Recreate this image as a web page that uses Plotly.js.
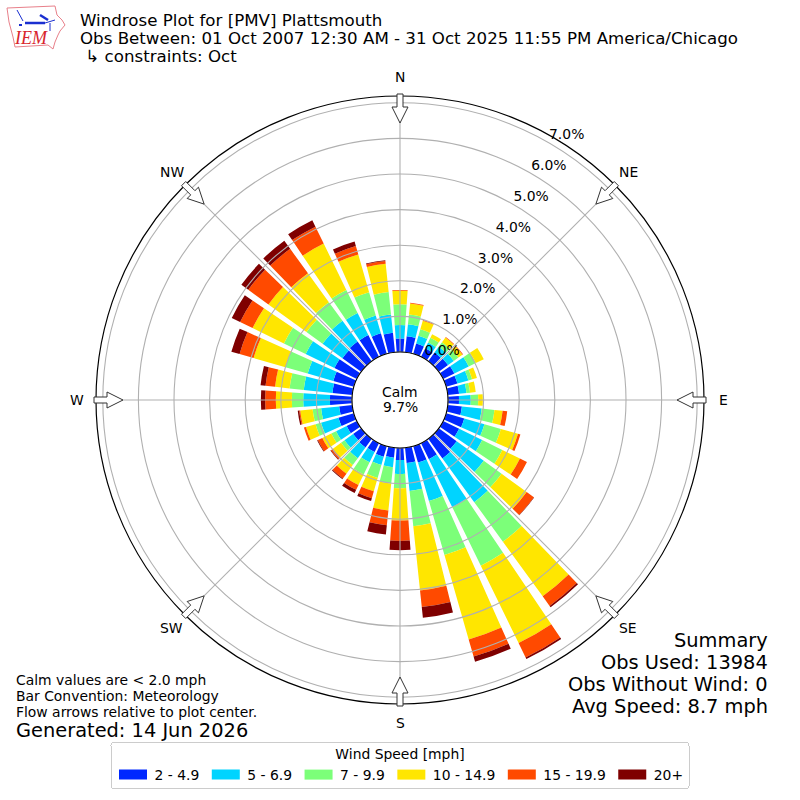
<!DOCTYPE html>
<html>
<head>
<meta charset="utf-8">
<script src="https://cdn.plot.ly/plotly-3.0.1.min.js"></script>
<style>html,body{margin:0;padding:0;background:#fff}#chart{width:800px;height:800px}</style>
</head>
<body>
<div id="chart"></div>
<script>
const directions = [0,10,20,30,40,50,60,70,80,90,100,110,120,130,140,150,160,170,180,190,200,210,220,230,240,250,260,270,280,290,300,310,320,330,340,350];
const speedLabels = ['2 - 4.9','5 - 6.9','7 - 9.9','10 - 14.9','15 - 19.9','20+'];
const speedColors = ['#0028ff','#00d4ff','#7cff79','#ffe600','#ff4a00','#7f0000'];
const speed2to5   = [.38,.45,.30,.27,.30,.32,.35,.33,.32,.31,.40,.53,.50,.62,.68,.50,.48,.43,.34,.28,.31,.28,.30,.28,.32,.45,.37,.62,.56,.60,.70,.65,.68,.68,.60,.55];
const speed5to7   = [.38,.34,.23,.18,.20,.20,.45,.32,.21,.33,.56,.59,.72,.94,1.52,1.50,1.12,.79,.39,.27,.24,.32,.37,.30,.33,.51,.51,.75,.81,.75,.90,.69,.72,.69,.52,.52];
const speed7to10  = [.58,.28,.19,.15,.16,.16,.22,.11,.10,.21,.36,.48,.63,.62,1.37,1.83,1.58,1.00,.40,.46,.38,.38,.24,.12,.15,.16,.24,.32,.40,.65,.68,.56,.65,.72,.68,.63];
const speed10to15 = [.38,.31,.25,.11,.16,.14,.25,.14,.16,.13,.23,.50,.55,.87,1.90,2.42,2.47,1.81,.91,.76,.39,.33,.30,.28,.28,.28,.35,.45,.41,.93,.98,1.32,1.00,1.45,1.10,.80];
const speed15to20 = [.02,.02,.02,0,.02,.02,0,0,0,0,.13,.07,.22,.25,.33,.45,.50,.47,.57,.42,.20,.15,.17,.07,.14,.06,.03,.30,.27,.41,.39,.70,.85,.53,.25,.08];
const speed20plus = [0,0,0,0,0,0,0,0,0,0,0,0,0,.01,.05,.05,.15,.30,.26,.26,.08,.10,.02,.02,.02,0,.04,.12,.14,.24,.26,.24,.28,.20,.13,.02];
const speedSeries = [speed2to5,speed5to7,speed7to10,speed10to15,speed15to20,speed20plus];
const radialTicks = [0,1,2,3,4,5,6,7];
const radialTickLabels = ['0.0%','1.0%','2.0%','3.0%','4.0%','5.0%','6.0%','7.0%'];
const compassAngles = [0,45,90,135,180,225,270,315];
const compassLabels = ['N','NE','E','SE','S','SW','W','NW'];
const titleLines = ['Windrose Plot for [PMV] Plattsmouth','Obs Between: 01 Oct 2007 12:30 AM - 31 Oct 2025 11:55 PM America/Chicago','\u00a0\u21b3 constraints: Oct'];
const summaryLines = ['Summary','Obs Used: 13984','Obs Without Wind: 0','Avg Speed: 8.7 mph'];
const noteLines = ['Calm values are < 2.0 mph','Bar Convention: Meteorology','Flow arrows relative to plot center.'];
const generatedText = 'Generated: 14 Jun 2026';
const calmLines = ['Calm','9.7%'];
const FONT = '"DejaVu Sans", sans-serif';

// pixel helpers: margins are zero, so paper = page pixels
const fx = p => p/800, fy = p => 1-p/800;
const CX=400, CY=400, R=304, R0=48, PER=35.6, LABEL_R=323;
function pathOf(points, close){
  return points.map((p,i)=>(i?'L':'M')+fx(p[0]).toFixed(5)+' '+fy(p[1]).toFixed(5)).join(' ')+(close?' Z':'');
}
const shapes = [];
const GRID={color:'#b0b0b0',width:1.1};
// grid over the bars, as in the reference
radialTicks.forEach(v=>{
  const r=R0+v*PER;
  shapes.push({type:'circle',xref:'paper',yref:'paper',layer:'above',x0:fx(CX-r),x1:fx(CX+r),y0:fy(CY+r),y1:fy(CY-r),line:GRID});
});
compassAngles.forEach(a=>{
  const t=a*Math.PI/180;
  shapes.push({type:'line',xref:'paper',yref:'paper',layer:'above',
    x0:fx(CX+Math.sin(t)*R0),y0:fy(CY-Math.cos(t)*R0),x1:fx(CX+Math.sin(t)*R),y1:fy(CY-Math.cos(t)*R),line:GRID});
});
// centre hole
shapes.push({type:'circle',xref:'paper',yref:'paper',layer:'above',x0:fx(CX-R0),x1:fx(CX+R0),y0:fy(CY+R0),y1:fy(CY-R0),fillcolor:'#fff',line:{color:'#000',width:1.1}});
// flow arrows
compassAngles.forEach(a=>{
  const t=a*Math.PI/180, ux=Math.sin(t), uy=-Math.cos(t), vx=-uy, vy=ux;
  const pt=(r,w)=>[CX+ux*r+vx*w, CY+uy*r+vy*w];
  shapes.push({type:'path',xref:'paper',yref:'paper',layer:'above',fillcolor:'#fff',line:{color:'#333',width:1},
    path:pathOf([pt(306,-3),pt(306,3),pt(293,3),pt(293,8),pt(277,0),pt(293,-8),pt(293,-3)],true)});
});
// IEM logo
function logo(points,color,width,close,fill){
  shapes.push({type:'path',xref:'paper',yref:'paper',layer:'above',line:{color,width},fillcolor:fill||'rgba(0,0,0,0)',path:pathOf(points,close)});
}
logo([[7,8],[55,6],[57,15],[62,20],[65,25],[60,31],[58,35],[55,42],[53,49],[48,45],[15,47],[13,37],[9,22]],'#e8808a',1,true);
logo([[25,23],[45,23]],'#1a2fd0',2.5);
logo([[45,23],[55,20]],'#1a2fd0',1);
logo([[40,15],[48,20]],'#1a2fd0',2.5);
logo([[17,10],[23,21]],'#1a2fd0',1);
logo([[50,23],[50,31]],'#1a2fd0',1);
logo([[19,25],[22,25]],'#1a2fd0',2);

const annotations = [];
function note(text,x,y,size,anchor,color,family){
  const a=anchor||'left';
  annotations.push({text,xref:'paper',yref:'paper',x:fx(x+(a==='left'?-2:a==='right'?2:0)),y:fy(y),xanchor:a,yanchor:'middle',showarrow:false,
    align:a,font:{family:family||FONT,size,color:color||'#000'}});
}
note(titleLines[1],80,38.5,16.67);
note(titleLines[2],80,56,16.67);
summaryLines.forEach((s,i)=>note(s,768,640+i*22,19.4,'right'));
noteLines.forEach((s,i)=>note(s,16,680+i*16,13.9));
note(generatedText,16,730,19.4);
note(calmLines[0],400,392,13.9,'center');
note(calmLines[1],400,407,13.9,'center');
note('<i>IEM</i>',31,38,18,'center','#d8242c','"Liberation Serif", serif');
compassLabels.forEach((s,i)=>{
  const t=compassAngles[i]*Math.PI/180;
  note(s,CX+Math.sin(t)*LABEL_R,CY-Math.cos(t)*LABEL_R,13.9,'center');
});

const traces = speedSeries.map((values,i)=>({
  type:'barpolar',name:speedLabels[i],r:values,theta:directions,width:8,
  marker:{color:speedColors[i],line:{width:0}},hoverinfo:'skip'
}));

const layout = {
  width:800,height:800,margin:{l:0,r:0,t:0,b:0},paper_bgcolor:'#fff',plot_bgcolor:'#fff',
  font:{family:FONT,color:'#000',size:13.9},
  title:{text:titleLines[0],font:{family:FONT,size:16.67,color:'#000'},x:fx(80),xanchor:'left',xref:'paper',y:fy(20),yanchor:'middle',yref:'paper'},
  polar:{
    domain:{x:[fx(CX-R),fx(CX+R)],y:[fy(CY+R),fy(CY-R)]},
    bgcolor:'#fff',barmode:'stack',
    angularaxis:{rotation:90,direction:'clockwise',tickmode:'array',tickvals:compassAngles,ticktext:compassLabels,showticklabels:false,
      showline:true,linecolor:'#000',linewidth:1.2,showgrid:false,ticks:'',layer:'above traces'},
    radialaxis:{range:[-R0/PER,(R-R0)/PER],angle:60,tickmode:'array',tickvals:radialTicks,ticktext:radialTickLabels,tickangle:60,
      showline:false,showgrid:false,ticks:'',side:'clockwise',tickfont:{family:FONT,size:13.9,color:'#000'},layer:'above traces'}
  },
  showlegend:true,
  legend:{orientation:'h',x:0.5,xanchor:'center',y:fy(742),yanchor:'top',bgcolor:'#fff',bordercolor:'#ccc',borderwidth:1,itemwidth:33,
    title:{text:'Wind Speed [mph]',side:'top center',font:{family:FONT,size:13.9}},font:{family:FONT,size:13.9},traceorder:'normal',itemclick:false,itemdoubleclick:false},
  shapes,annotations
};
Plotly.newPlot('chart',traces,layout,{displayModeBar:false}).then(()=>{
  // reference legend keys are wide flat rectangles, in a slightly shorter rounded box
  document.querySelectorAll('.legend .traces .legendsymbols path').forEach(p=>p.setAttribute('d','M14,5H-14V-5H14Z'));
  document.querySelectorAll('.legend rect.bg').forEach(r=>{r.setAttribute('rx',3);r.setAttribute('ry',3);r.setAttribute('height',46);});
  document.querySelectorAll('.legend .scrollbox').forEach(g=>g.setAttribute('transform','translate(0,-2)'));
  // matplotlib sets the radial labels up and to the left of plotly's default place
  document.querySelectorAll('.radial-axis').forEach(g=>{
    g.setAttribute('transform',(g.getAttribute('transform')||'')+' translate(9.1,-12.2)');
  });
});
</script>
</body>
</html>
